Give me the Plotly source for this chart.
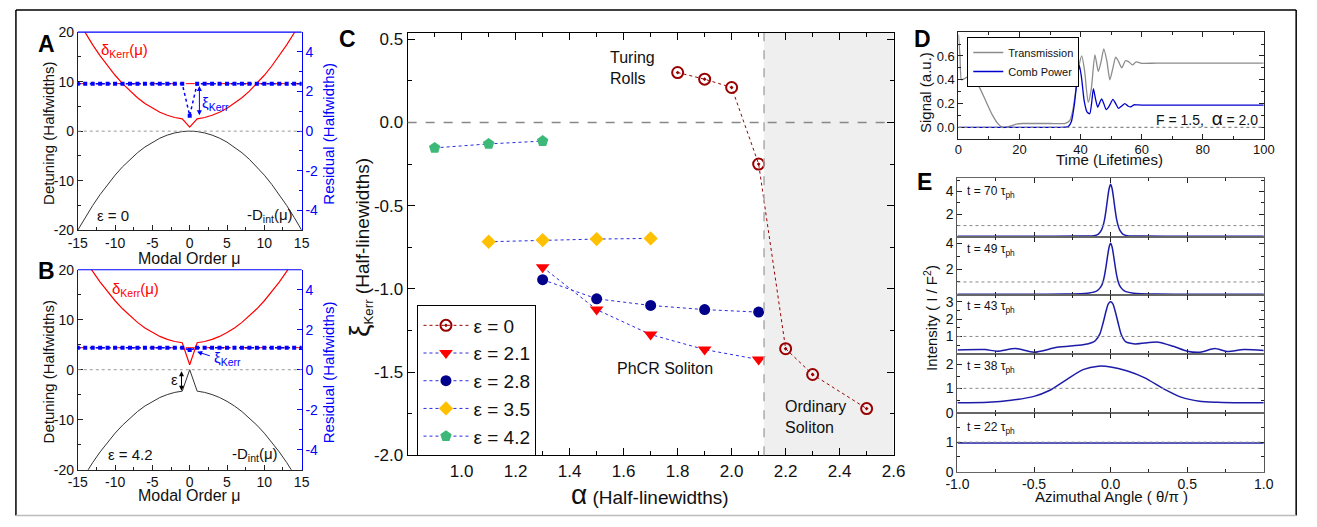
import plotly.graph_objects as go

W, H = 1317, 527
FONT = "Liberation Sans, Arial, Helvetica, sans-serif"


def X(p):
    return p / W


def Y(p):
    return 1 - p / H


# ---------------- Panels A / B data ----------------
mu = list(range(-15, 16))
negDint_A = [-20.0, -17.42, -15.02, -12.8, -10.76, -8.89, -7.2, -5.69, -4.36, -3.2, -2.22, -1.42, -0.8, -0.36, -0.09, 0.0,
             -0.09, -0.36, -0.8, -1.42, -2.22, -3.2, -4.36, -5.69, -7.2, -8.89, -10.76, -12.8, -15.02, -17.42, -20.0]
delta_A = [22.4, 19.82, 17.42, 15.2, 13.16, 11.29, 9.6, 8.09, 6.76, 5.6, 4.62, 3.82, 3.2, 2.76, 2.49, 0.8,
           2.49, 2.76, 3.2, 3.82, 4.62, 5.6, 6.76, 8.09, 9.6, 11.29, 13.16, 15.2, 17.42, 19.82, 22.4]
resid_A = [2.4, 2.4, 2.4, 2.4, 2.4, 2.4, 2.4, 2.4, 2.4, 2.4, 2.4, 2.4, 2.4, 2.4, 2.4, 0.78,
           2.4, 2.4, 2.4, 2.4, 2.4, 2.4, 2.4, 2.4, 2.4, 2.4, 2.4, 2.4, 2.4, 2.4, 2.4]
level_A = 2.4

negDint_B = [-23.33, -20.86, -18.57, -16.44, -14.49, -12.7, -11.09, -9.64, -8.37, -7.26, -6.33, -5.56, -4.97, -4.54, -4.29, 0.0,
             -4.29, -4.54, -4.97, -5.56, -6.33, -7.26, -8.37, -9.64, -11.09, -12.7, -14.49, -16.44, -18.57, -20.86, -23.33]
delta_B = [24.43, 21.96, 19.67, 17.54, 15.59, 13.8, 12.19, 10.74, 9.47, 8.36, 7.43, 6.66, 6.07, 5.64, 5.39, 1.0,
           5.39, 5.64, 6.07, 6.66, 7.43, 8.36, 9.47, 10.74, 12.19, 13.8, 15.59, 17.54, 19.67, 21.96, 24.43]
resid_B = [1.1, 1.1, 1.1, 1.1, 1.1, 1.1, 1.1, 1.1, 1.1, 1.1, 1.1, 1.1, 1.1, 1.1, 1.1, 0.98,
           1.1, 1.1, 1.1, 1.1, 1.1, 1.1, 1.1, 1.1, 1.1, 1.1, 1.1, 1.1, 1.1, 1.1, 1.1]
level_B = 1.1
eps_B = 4.2

# ---------------- Panel C data ----------------
c_names = ["ε = 0", "ε = 2.1", "ε = 2.8", "ε = 3.5", "ε = 4.2"]
alpha_e0 = [1.8, 1.9, 2.0, 2.1, 2.2, 2.3, 2.5]
xi_e0 = [0.30, 0.26, 0.21, -0.25, -1.36, -1.515, -1.72]
alpha_e21 = [1.3, 1.5, 1.7, 1.9, 2.1]
xi_e21 = [-0.87, -1.125, -1.275, -1.365, -1.425]
alpha_e28 = [1.3, 1.5, 1.7, 1.9, 2.1]
xi_e28 = [-0.945, -1.06, -1.10, -1.125, -1.14]
alpha_e35 = [1.1, 1.3, 1.5, 1.7]
xi_e35 = [-0.717, -0.707, -0.701, -0.697]
alpha_e42 = [0.9, 1.1, 1.3]
xi_e42 = [-0.153, -0.129, -0.112]
ordinary_start = 2.12

# ---------------- Panel D data ----------------
t_trans = [0, 0.5, 1, 2, 3.5, 5, 7, 9, 11, 13, 14.5, 16, 17.5, 19, 21, 25, 30, 35, 36.5, 37.5, 38.5, 39.5, 40.4,
           41.3, 42.5, 43.5, 44.7, 45.8, 46.7, 47.6, 48.6, 49.6, 50.6, 51.5, 52.5, 53.5, 54.7, 55.8, 57, 58.2, 60,
           65, 80, 100]
trans = [0.78, 0.6, 0.40, 0.41, 0.43, 0.41, 0.33, 0.22, 0.11, 0.03, 0.0, 0.005, 0.015, 0.028, 0.033, 0.033, 0.033,
         0.035, 0.06, 0.15, 0.33, 0.52, 0.60, 0.48, 0.21, 0.32, 0.61, 0.47, 0.55, 0.66, 0.56, 0.40, 0.50, 0.59,
         0.55, 0.50, 0.56, 0.55, 0.525, 0.55, 0.538, 0.54, 0.54, 0.54]
t_comb = [0, 10, 20, 30, 35, 36, 37, 38, 38.8, 39.6, 40.3, 41.2, 42.1, 43.0, 43.6, 44.2, 44.9, 45.6, 46.3, 46.9,
          47.6, 48.4, 49.4, 50.6, 51.5, 52.4, 53.5, 54.5, 55.5, 56.4, 57.5, 58.3, 60, 70, 100]
comb = [0, 0, 0, 0, 0.002, 0.008, 0.05, 0.2, 0.38, 0.52, 0.42, 0.22, 0.13, 0.115, 0.2, 0.325, 0.24, 0.17, 0.21,
        0.24, 0.2, 0.15, 0.18, 0.235, 0.2, 0.16, 0.18, 0.2, 0.18, 0.172, 0.19, 0.19, 0.188, 0.188, 0.188]

# ---------------- Panel E data ----------------
e_labels = ["t = 70 τ<sub>ph</sub>", "t = 49 τ<sub>ph</sub>", "t = 43 τ<sub>ph</sub>",
            "t = 38 τ<sub>ph</sub>", "t = 22 τ<sub>ph</sub>"]
theta_70 = [-1.0, -0.5, -0.2, -0.12, -0.1, -0.08, -0.06, -0.05, -0.04, -0.03, -0.02, -0.01, 0.0,
            0.01, 0.02, 0.03, 0.04, 0.05, 0.06, 0.08, 0.1, 0.12, 0.2, 0.5, 1.0]
I_70 = [0.06, 0.06, 0.07, 0.09, 0.13, 0.25, 0.6, 0.95, 1.5, 2.35, 3.35, 4.25, 4.65,
        4.25, 3.35, 2.35, 1.5, 0.95, 0.6, 0.25, 0.13, 0.09, 0.07, 0.06, 0.06]
theta_49 = [-1.0, -0.5, -0.3, -0.2, -0.15, -0.1, -0.08, -0.06, -0.05, -0.04, -0.03, -0.02, -0.01, 0.0,
            0.01, 0.02, 0.03, 0.04, 0.05, 0.06, 0.08, 0.1, 0.15, 0.2, 0.3, 0.5, 1.0]
I_49 = [0.05, 0.05, 0.06, 0.09, 0.13, 0.25, 0.4, 0.7, 1.0, 1.5, 2.2, 3.0, 3.7, 4.0,
        3.7, 3.0, 2.2, 1.5, 1.0, 0.7, 0.4, 0.25, 0.13, 0.09, 0.06, 0.05, 0.05]
theta_43 = [-1.0, -0.82, -0.74, -0.62, -0.5, -0.35, -0.18, -0.12, -0.1, -0.07, -0.05, -0.03, -0.015, 0.0,
            0.015, 0.03, 0.05, 0.07, 0.1, 0.16, 0.31, 0.41, 0.5, 0.585, 0.68, 0.76, 0.87, 1.0]
I_43 = [0.22, 0.24, 0.15, 0.3, 0.09, 0.37, 0.52, 0.65, 0.75, 1.15, 1.75, 2.45, 2.88, 3.0,
        2.88, 2.45, 1.75, 1.1, 0.68, 0.57, 0.67, 0.43, 0.15, 0.09, 0.3, 0.13, 0.24, 0.19]
theta_38 = [-1.0, -0.8, -0.65, -0.5, -0.4, -0.3, -0.18, -0.08, 0.0, 0.11, 0.22, 0.35, 0.46, 0.58, 0.7, 0.85, 1.0]
I_38 = [0.41, 0.43, 0.51, 0.67, 0.91, 1.31, 1.77, 1.91, 1.88, 1.71, 1.44, 0.97, 0.64, 0.47, 0.43, 0.41, 0.41]
theta_22 = [-1.0, -0.5, 0.0, 0.5, 1.0]
I_22 = [0.97, 0.97, 0.97, 0.97, 0.97]
e_theta = [theta_70, theta_49, theta_43, theta_38, theta_22]
e_I = [I_70, I_49, I_43, I_38, I_22]
e_ranges = [[0, 5.2], [0, 4.5], [0, 3.4], [0, 2.42], [0, 2.0]]
e_ticks = [[2, 4], [2, 4], [1, 2, 3], [0, 1, 2], [0, 1]]

RED = "#ff0000"
BLUE = "#0000ff"
AXC = "#222222"

fig = go.Figure()

# ---------- A & B traces ----------
for (negD, dlt, res, xa, ya, yb) in [(negDint_A, delta_A, resid_A, "x", "y", "y2"),
                                     (negDint_B, delta_B, resid_B, "x2", "y3", "y4")]:
    fig.add_trace(go.Scatter(x=mu, y=negD, mode="lines", line=dict(color="#333333", width=1),
                             xaxis=xa, yaxis=ya, showlegend=False))
    fig.add_trace(go.Scatter(x=mu, y=dlt, mode="lines", line=dict(color=RED, width=1.2),
                             xaxis=xa, yaxis=ya, showlegend=False))
    fig.add_trace(go.Scatter(x=mu, y=res, mode="lines+markers", line=dict(color=BLUE, width=1.5, dash="dot"),
                             marker=dict(symbol="square", size=4, color=BLUE),
                             xaxis=xa, yaxis=yb, showlegend=False))

# ---------- C traces ----------
c_specs = [
    (alpha_e0, xi_e0, dict(symbol="circle-open-dot", size=11, color="#990000", line=dict(width=2, color="#990000")), "#990000"),
    (alpha_e21, xi_e21, dict(symbol="triangle-down", size=12, color="#ff0000"), "#2a2ae0"),
    (alpha_e28, xi_e28, dict(symbol="circle", size=11, color="#00008b"), "#2a2ae0"),
    (alpha_e35, xi_e35, dict(symbol="diamond", size=11, color="#ffc000"), "#2a2ae0"),
    (alpha_e42, xi_e42, dict(symbol="pentagon", size=12, color="#3cb878"), "#2a2ae0"),
]
for name, (ax_, ay_, mk, lc) in zip(c_names, c_specs):
    fig.add_trace(go.Scatter(x=ax_, y=ay_, mode="lines+markers", name=name, marker=mk,
                             line=dict(color=lc, width=1, dash="dot"),
                             xaxis="x3", yaxis="y5", legend="legend"))

# ---------- D traces ----------
fig.add_trace(go.Scatter(x=t_trans, y=trans, mode="lines", name="Transmission",
                         line=dict(color="#8c8c8c", width=1.3, shape="spline", smoothing=0.6),
                         xaxis="x4", yaxis="y6", legend="legend2"))
fig.add_trace(go.Scatter(x=t_comb, y=comb, mode="lines", name="Comb Power",
                         line=dict(color="#0000cd", width=1.3, shape="spline", smoothing=0.6),
                         xaxis="x4", yaxis="y6", legend="legend2"))

# ---------- E traces ----------
for i in range(5):
    fig.add_trace(go.Scatter(x=e_theta[i], y=e_I[i], mode="lines",
                             line=dict(color="#1c1ca8", width=1.5, shape="spline", smoothing=0.7),
                             xaxis="x%d" % (5 + i), yaxis="y%d" % (7 + i), showlegend=False))


def axis(**kw):
    base = dict(showline=True, linecolor=AXC, linewidth=1, ticks="inside", ticklen=5, tickcolor=AXC,
                showgrid=False, zeroline=False, tickfont=dict(family=FONT, size=14, color="#111"))
    base.update(kw)
    return base


def minor(t0, dt, color=AXC, ln=3):
    return dict(ticks="inside", ticklen=ln, tickcolor=color, tickmode="linear", tick0=t0, dtick=dt, showgrid=False)


def lab(vals, fmt="{:g}"):
    return [fmt.format(v).replace("−", "-") for v in vals]


mu_ticks = [-15, -10, -5, 0, 5, 10, 15]
det_ticks = [-20, -10, 0, 10, 20]
res_ticks = [-4, -2, 0, 2, 4]

layout = dict(width=W, height=H, margin=dict(l=0, r=0, t=0, b=0), plot_bgcolor="white",
              paper_bgcolor="white", font=dict(family=FONT, color="#111"))

for (xk, yk, yk2, xn, yn, yn2, top, bot) in [("xaxis", "yaxis", "yaxis2", "x", "y", "y2", 25, 230),
                                              ("xaxis2", "yaxis3", "yaxis4", "x2", "y3", "y4", 271, 478)]:
    layout[xk] = axis(domain=[X(67), X(295)], anchor=yn, range=[-15, 15], tickmode="array",
                      tickvals=mu_ticks, ticktext=lab(mu_ticks), minor=minor(-15, 2.5))
    layout[yk] = axis(domain=[Y(bot), Y(top)], anchor=xn, range=[-20, 20], tickmode="array",
                      tickvals=det_ticks, ticktext=lab(det_ticks), minor=minor(-20, 5))
    layout[yk2] = axis(overlaying=yn, anchor=xn, side="right", range=[-5, 5], tickmode="array",
                       tickvals=res_ticks, ticktext=lab(res_ticks), linecolor=BLUE, tickcolor=BLUE,
                       tickfont=dict(family=FONT, size=14, color=BLUE), minor=minor(-5, 1, BLUE))

# C
c_xt = [1.0, 1.2, 1.4, 1.6, 1.8, 2.0, 2.2, 2.4, 2.6]
c_yt = [0.5, 0.0, -0.5, -1.0, -1.5, -2.0]
layout["xaxis3"] = axis(domain=[X(403), X(898)], anchor="y5", range=[0.8, 2.6], mirror="ticks",
                        tickmode="array", tickvals=c_xt, ticktext=lab(c_xt, "{:.1f}"), ticklen=7,
                        linecolor="#000", tickcolor="#000",
                        tickfont=dict(family=FONT, size=17, color="#111"), minor=minor(0.8, 0.1, "#000", 4))
layout["yaxis5"] = axis(domain=[Y(463), Y(26)], anchor="x3", range=[-2.0, 0.537], mirror="ticks",
                        tickmode="array", tickvals=c_yt, ticktext=lab(c_yt, "{:.1f}"), ticklen=7,
                        linecolor="#000", tickcolor="#000",
                        tickfont=dict(family=FONT, size=17, color="#111"), minor=minor(-2.0, 0.25, "#000", 4))

# D
d_xt = [0, 20, 40, 60, 80, 100]
d_yt = [0.0, 0.2, 0.4, 0.6]
layout["xaxis4"] = axis(domain=[X(964), X(1275)], anchor="y6", range=[0, 100], mirror="ticks",
                        tickmode="array", tickvals=d_xt, ticktext=lab(d_xt), ticklabelstandoff=-2,
                        tickfont=dict(family=FONT, size=13, color="#111"), minor=minor(0, 10))
layout["yaxis6"] = axis(domain=[Y(136), Y(25)], anchor="x4", range=[-0.1, 0.8], mirror="ticks",
                        tickmode="array", tickvals=d_yt, ticktext=lab(d_yt, "{:.1f}"),
                        tickfont=dict(family=FONT, size=13, color="#111"), minor=minor(-0.1, 0.1))

# E
e_bounds = [176, 237, 297, 358, 419, 480]
e_xt = [-1.0, -0.5, 0.0, 0.5, 1.0]
for i in range(5):
    xk, yk = "xaxis%d" % (5 + i), "yaxis%d" % (7 + i)
    layout[xk] = axis(domain=[X(963), X(1275)], anchor="y%d" % (7 + i), range=[-1, 1], mirror="ticks",
                      linecolor="#666", linewidth=1.2 if i < 4 else 1,
                      tickmode="array", tickvals=e_xt, ticktext=lab(e_xt, "{:.1f}"),
                      showticklabels=(i == 4), minor=minor(-1, 0.25))
    layout[yk] = axis(domain=[Y(e_bounds[i + 1]), Y(e_bounds[i])], anchor="x%d" % (5 + i),
                      range=e_ranges[i], mirror="ticks", linecolor="#555",
                      tickmode="array", tickvals=e_ticks[i], ticktext=lab(e_ticks[i]),
                      minor=minor(0, 0.5 if i >= 2 else 1))

layout["legend"] = dict(x=X(413), y=Y(308), xanchor="left", yanchor="top", bgcolor="white",
                        bordercolor="#000", borderwidth=1, font=dict(family=FONT, size=19, color="#111"),
                        itemwidth=45, tracegroupgap=0)
layout["legend2"] = dict(x=X(973), y=Y(30), xanchor="left", yanchor="top", bgcolor="white",
                         bordercolor="#000", borderwidth=1, font=dict(family=FONT, size=11, color="#111"),
                         itemwidth=30, tracegroupgap=0)
fig.update_layout(**layout)

shapes = []
shapes += [
    dict(type="line", xref="paper", yref="paper", x0=X(4), x1=X(4), y0=Y(2), y1=Y(525.5), line=dict(color="#000", width=1.5)),
    dict(type="line", xref="paper", yref="paper", x0=X(4), x1=X(1308), y0=Y(2), y1=Y(2), line=dict(color="#000", width=1.5)),
    dict(type="line", xref="paper", yref="paper", x0=X(1308), x1=X(1308), y0=Y(2), y1=Y(525.5), line=dict(color="#000", width=1.5)),
    dict(type="line", xref="paper", yref="paper", x0=X(4), x1=X(1308), y0=Y(525.5), y1=Y(525.5), line=dict(color="#bbbbbb", width=1.5)),
]
for (xn, yn, yn2, lvl) in [("x", "y", "y2", level_A), ("x2", "y3", "y4", level_B)]:
    shapes.append(dict(type="line", xref=xn + " domain", yref=yn, x0=0, x1=1, y0=0, y1=0,
                       line=dict(color="#999", width=1, dash="dot")))
    shapes.append(dict(type="line", xref=xn + " domain", yref=yn2, x0=0, x1=1, y0=lvl, y1=lvl,
                       line=dict(color=RED, width=1, dash="dash"), layer="below"))
    shapes.append(dict(type="line", xref=xn + " domain", yref=yn + " domain", x0=0, x1=1, y0=1, y1=1,
                       line=dict(color=BLUE, width=1.2)))
shapes.append(dict(type="rect", xref="x3", yref="y5 domain", x0=ordinary_start, x1=2.6, y0=0, y1=1,
                   fillcolor="#efefef", line=dict(width=0), layer="below"))
shapes.append(dict(type="line", xref="x3", yref="y5 domain", x0=ordinary_start, x1=ordinary_start, y0=0, y1=1,
                   line=dict(color="#aaaaaa", width=1.5, dash="dash")))
shapes.append(dict(type="line", xref="x3 domain", yref="y5", x0=0, x1=1, y0=0, y1=0,
                   line=dict(color="#888888", width=1.5, dash="dash")))
shapes.append(dict(type="line", xref="x4 domain", yref="y6", x0=0, x1=1, y0=0, y1=0,
                   line=dict(color="#888888", width=1.2, dash="dot")))
for i in range(5):
    shapes.append(dict(type="line", xref="x%d domain" % (5 + i), yref="y%d" % (7 + i), x0=0, x1=1, y0=1, y1=1,
                       line=dict(color="#888888", width=1, dash="dot")))
fig.update_layout(shapes=shapes)

ann = []


def txt(x, y, text, size=14, color="#111", xanchor="center", yanchor="middle", angle=0, xref="paper",
        yref="paper", align="center"):
    if xref == "paper":
        x = X(x)
    if yref == "paper":
        y = Y(y)
    ann.append(dict(x=x, y=y, xref=xref, yref=yref, text=text, showarrow=False, xanchor=xanchor,
                    yanchor=yanchor, textangle=angle, align=align,
                    font=dict(family=FONT, size=size, color=color)))


for (lx, ly, L) in [(35, 37, "A"), (35, 272, "B"), (342, 32, "C"), (927, 32, "D"), (929, 180, "E")]:
    txt(lx, ly, "<b>%s</b>" % L, size=23, color="#000")

for (yc, ya, yb, xa, epslabel, dxlab, dylab, elx, dix) in [
        (130, "y", "y2", "x", "ε = 0", -8.8, 16.3, -10.3, 10.7),
        (377, "y3", "y4", "x2", "ε = 4.2", -7.2, 16.0, -7.9, 8.7)]:
    txt(37, yc, "Detuning (Halfwidths)", size=15, angle=-90)
    txt(322, yc, "Residual (Halfwidths)", size=15, angle=-90, color=BLUE)
    txt(dxlab, dylab, "δ<sub>Kerr</sub>(μ)", size=15, color=RED, xref=xa, yref=ya)
    txt(elx, -17.0, epslabel, size=15, xref=xa, yref=ya)
    txt(dix, -17.0, "-D<sub>int</sub>(μ)", size=15, xref=xa, yref=ya)
txt(181, 259, "Modal Order μ", size=16)
txt(181, 505, "Modal Order μ", size=16)

ann.append(dict(x=1.3, y=0.8, xref="x", yref="y2", ax=1.3, ay=2.35, axref="x", ayref="y2", text="",
                showarrow=True, arrowhead=2, arrowside="end+start", arrowsize=1, arrowwidth=1,
                arrowcolor=BLUE, standoff=0, startstandoff=0))
txt(3.5, 1.42, "ξ<sub>Kerr</sub>", size=15, color=BLUE, xref="x", yref="y2")
ann.append(dict(x=-1.1, y=-eps_B, xref="x2", yref="y3", ax=-1.1, ay=0, axref="x2", ayref="y3", text="",
                showarrow=True, arrowhead=2, arrowside="end+start", arrowsize=1, arrowwidth=1,
                arrowcolor="#000", standoff=0, startstandoff=0))
txt(-2.1, -2.0, "ε", size=15, xref="x2", yref="y3")
ann.append(dict(x=1.0, y=0.9, xref="x2", yref="y4", ax=2.9, ay=0.67, axref="x2", ayref="y4", text="",
                showarrow=True, arrowhead=2, arrowsize=1, arrowwidth=1, arrowcolor=BLUE, standoff=0))
txt(5.0, 0.56, "ξ<sub>Kerr</sub>", size=15, color=BLUE, xref="x2", yref="y4")

txt(354, 248, "<span style='font-size:28px'>ξ</span><sub>Kerr</sub> (Half-linewidths)", size=19, angle=-90)
txt(650, 504, "<span style='font-size:28px'>α</span> (Half-linewidths)", size=19)
txt(607, 62, "Turing<br>Rolls", size=16, xanchor="left", align="left")
txt(614, 373, "PhCR Soliton", size=16, xanchor="left")
txt(785, 423, "Ordinary<br>Soliton", size=16, xanchor="left", align="left")

txt(931, 88, "Signal (a.u.)", size=15, angle=-90)
txt(1118, 157, "Time (Lifetimes)", size=15)
txt(1271, 114, "F = 1.5,  <span style='font-size:19px'>α</span> = 2.0", size=14, xanchor="right")

txt(935, 321, "Intensity ( I / F<sup>2</sup>)", size=15, angle=-90)
txt(1120, 506, "Azimuthal Angle ( θ/π )", size=15)
e_label_y = [190, 251, 310, 371.7, 435]
for lbl, ly in zip(e_labels, e_label_y):
    txt(971, ly, lbl, size=12, xanchor="left")

fig.update_layout(annotations=ann)
fig.write_html("out.html", config={"displayModeBar": False},
               post_script="document.body.style.margin='0px';document.body.style.overflow='hidden';")
